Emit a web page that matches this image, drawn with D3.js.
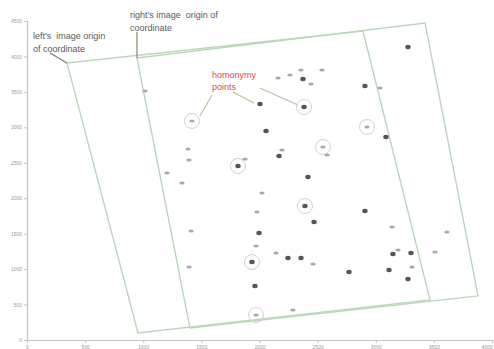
<!DOCTYPE html>
<html>
<head>
<meta charset="utf-8">
<script src="https://cdn.jsdelivr.net/npm/d3@7"></script>
<style>
  html, body { margin: 0; padding: 0; background: #fff; }
  svg { display: block; }
</style>
</head>
<body>
<div id="chart"></div>
<script>
// Axis ticks (image coordinates, pixels of the source frame)
const xTicks = [0, 500, 1000, 1500, 2000, 2500, 3000, 3500, 4000];
const yTicks = [0, 500, 1000, 1500, 2000, 2500, 3000, 3500, 4000, 4500];

// Footprints of the two images: corner coordinates in order
const leftImageX  = [344, 2890, 3467, 955];
const leftImageY  = [3908, 4359, 564, 99];
const rightImageX = [946, 3424, 3880, 1402];
const rightImageY = [3978, 4472, 621, 169];

// Tie points: position, tone (1 = strong, 0 = weak), circled flag
const pointX = [1015, 1419, 2004, 2383, 2159, 2262, 2357, 2374, 2443, 2538,
                2056, 1385, 1394, 1815, 1875, 2194, 2168, 2546, 2581, 2417,
                1204, 1333, 2925, 3088, 2907, 3037, 3277, 2021, 2391, 1978,
                2469, 1411, 1996, 1970, 2142, 1935, 2245, 2357, 2460, 2770,
                1394, 1961, 2288, 1970, 2907, 3140, 3613, 3191, 3148, 3303,
                3510, 3312, 3114, 3277];
const pointY = [3513, 3089, 3329, 3287, 3696, 3738, 3809, 3682, 3611, 3809,
                2948, 2694, 2539, 2455, 2553, 2680, 2596, 2723, 2610, 2299,
                2356, 2215, 3005, 2864, 3583, 3555, 4133, 2074, 1890, 1806,
                1665, 1538, 1509, 1326, 1227, 1100, 1157, 1157, 1072, 959,
                1030, 762, 423, 353, 1820, 1594, 1524, 1270, 1213, 1227,
                1241, 1030, 987, 861];
const pointTone = [0, 0, 1, 1, 0, 0, 0, 1, 0, 0,
                   1, 0, 0, 1, 0, 0, 1, 0, 0, 1,
                   0, 0, 0, 1, 1, 0, 1, 0, 1, 0,
                   1, 0, 1, 0, 0, 1, 1, 1, 0, 1,
                   0, 1, 0, 0, 1, 0, 0, 0, 1, 1,
                   0, 0, 1, 1];
const pointCircled = [0, 1, 0, 1, 0, 0, 0, 0, 0, 0,
                      0, 0, 0, 1, 0, 0, 0, 1, 0, 0,
                      0, 0, 1, 0, 0, 0, 0, 0, 1, 0,
                      0, 0, 0, 0, 0, 1, 0, 0, 0, 0,
                      0, 0, 0, 1, 0, 0, 0, 0, 0, 0,
                      0, 0, 0, 0];

// Annotation text and leader lines
const originNotes = [
  { lines: ["left's  image origin", "of coordinate"], x: 52, y: 4246, color: "#5a5a5a" },
  { lines: ["right's image  origin of", "coordinate"], x: 886, y: 4542, color: "#5a5a5a" },
  { lines: ["homonymy", "points"], x: 1591, y: 3696, color: "#e0474c" }
];
const leaderFromX = [198, 946, 1591, 1772, 2004];
const leaderFromY = [4049, 4345, 3456, 3499, 3555];
const leaderToX   = [344, 946, 1488, 1953, 2331];
const leaderToY   = [3908, 3978, 3160, 3343, 3315];
const leaderColor = ["#777", "#8a8a70", "#b8c29a", "#b8c29a", "#b8c29a"];

const W = 494, H = 349;
const margin = { left: 27, right: 2, top: 21, bottom: 9 };

const x = d3.scaleLinear().domain([0, 4000]).range([margin.left, W - margin.right]);
const y = d3.scaleLinear().domain([0, 4500]).range([H - margin.bottom, margin.top]);

const svg = d3.select("#chart").append("svg")
  .attr("width", W).attr("height", H)
  .style("font-family", "Liberation Sans, Arial, sans-serif");

// Axes
const fmt = d3.format("d");
const gx = svg.append("g")
  .attr("transform", `translate(0,${y(0)})`)
  .call(d3.axisBottom(x).tickValues(xTicks).tickFormat(fmt).tickSize(3).tickPadding(2));
const gy = svg.append("g")
  .attr("transform", `translate(${x(0)},0)`)
  .call(d3.axisLeft(y).tickValues(yTicks).tickFormat(fmt).tickSize(3).tickPadding(2));
[gx, gy].forEach(g => {
  g.select(".domain").attr("stroke", "#c4c4c4").attr("stroke-width", 1.2);
  g.selectAll(".tick line").attr("stroke", "#c4c4c4");
  g.selectAll(".tick text").attr("fill", "#9a9a9a").style("font-size", "5px");
});
// keep the last x label inside the frame
gx.selectAll(".tick text").filter(d => d === xTicks[xTicks.length - 1])
  .attr("text-anchor", "end");

// Image footprints
const quad = d3.line().x(d => x(d[0])).y(d => y(d[1])).curve(d3.curveLinearClosed);
const footprints = [
  d3.zip(leftImageX, leftImageY),
  d3.zip(rightImageX, rightImageY)
];
svg.append("g").selectAll("path")
  .data(footprints)
  .join("path")
  .attr("d", quad)
  .attr("fill", "none")
  .attr("stroke", "#bcd6bc")
  .attr("stroke-width", 1.4);

// Leader lines
svg.append("g").selectAll("line")
  .data(d3.range(leaderFromX.length))
  .join("line")
  .attr("x1", i => x(leaderFromX[i])).attr("y1", i => y(leaderFromY[i]))
  .attr("x2", i => x(leaderToX[i])).attr("y2", i => y(leaderToY[i]))
  .attr("stroke", i => leaderColor[i])
  .attr("stroke-width", 1.2);

// Tie points
const pts = d3.range(pointX.length).map(i => ({
  x: pointX[i], y: pointY[i], tone: pointTone[i], circled: pointCircled[i]
}));
svg.append("g").selectAll("circle")
  .data(pts.filter(d => d.circled))
  .join("circle")
  .attr("cx", d => x(d.x)).attr("cy", d => y(d.y))
  .attr("r", 7.5)
  .attr("fill", "none")
  .attr("stroke", "#d2d2d2")
  .attr("stroke-width", 1);
svg.append("g").selectAll("ellipse")
  .data(pts)
  .join("ellipse")
  .attr("cx", d => x(d.x)).attr("cy", d => y(d.y))
  .attr("rx", 2.7)
  .attr("ry", d => d.tone ? 2.2 : 1.5)
  .attr("fill", d => d.tone ? "#555" : "#aaa");

// Annotation text
const notes = svg.append("g");
originNotes.forEach(n => {
  const t = notes.append("text")
    .attr("x", x(n.x)).attr("y", y(n.y))
    .attr("fill", n.color)
    .style("font-size", "9px")
    .style("white-space", "pre");
  n.lines.forEach((ln, i) => {
    t.append("tspan").attr("x", x(n.x)).attr("dy", i === 0 ? 0 : 12.5).text(ln);
  });
});
</script>
</body>
</html>
